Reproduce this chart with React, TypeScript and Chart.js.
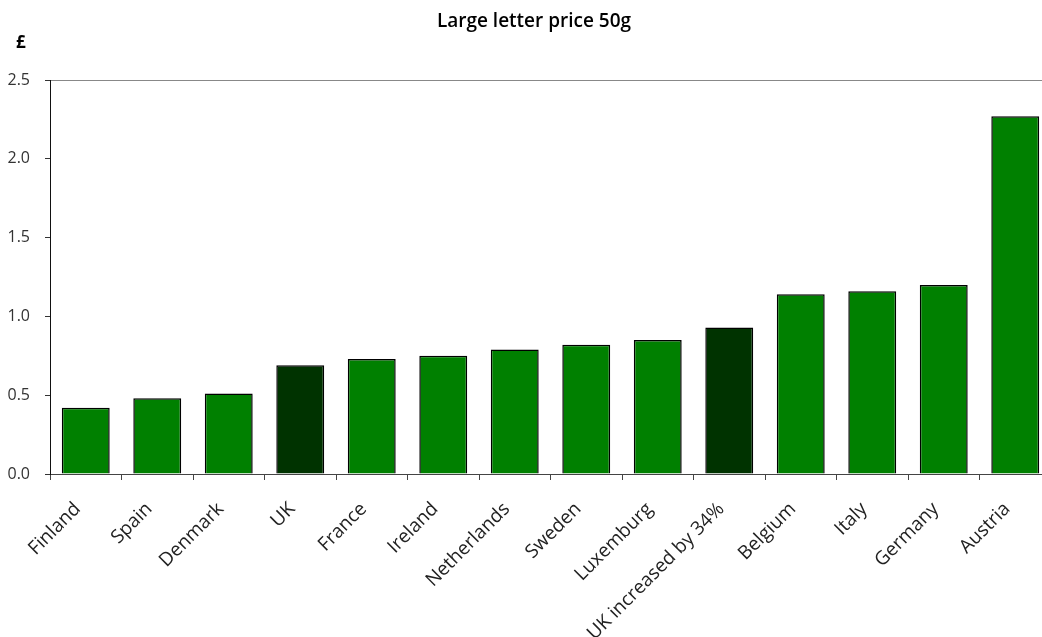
import React, { useEffect, useRef } from "react";
import { Chart, registerables } from "chart.js";

Chart.register(...registerables);

const categories = [
  "Finland",
  "Spain",
  "Denmark",
  "UK",
  "France",
  "Ireland",
  "Netherlands",
  "Sweden",
  "Luxemburg",
  "UK increased by 34%",
  "Belgium",
  "Italy",
  "Germany",
  "Austria",
];
const prices = [0.42, 0.48, 0.51, 0.69, 0.73, 0.75, 0.79, 0.82, 0.85, 0.93, 1.14, 1.16, 1.2, 2.27];
const highlighted = ["UK", "UK increased by 34%"];
const yTicks = [0, 0.5, 1.0, 1.5, 2.0, 2.5];
const titleText = "Large letter price 50g";
const unitLabel = "£";

const FONT = "'Open Sans', sans-serif";
const GREEN = "#008000";
const DARK = "#003300";

export default function App() {
  const ref = useRef<HTMLCanvasElement | null>(null);

  useEffect(() => {
    if (!ref.current) return;
    const textPlugin = {
      id: "textPlugin",
      afterDraw(chart: any) {
        const ctx = chart.ctx;
        ctx.save();
        ctx.fillStyle = "#000";
        ctx.textBaseline = "middle";
        ctx.font = `600 19px ${FONT}`;
        ctx.textAlign = "center";
        ctx.fillText(titleText, 534, 22);
        ctx.font = `bold 17px ${FONT}`;
        ctx.textAlign = "left";
        ctx.fillText(unitLabel, 16, 43);
        ctx.restore();
      },
    };
    const chart = new Chart(ref.current, {
      type: "bar",
      data: {
        labels: categories,
        datasets: [
          {
            data: prices,
            backgroundColor: categories.map((c) => (highlighted.includes(c) ? DARK : GREEN)),
            borderColor: "#000",
            borderWidth: 1.5,
            categoryPercentage: 1,
            barPercentage: 0.67,
          },
        ],
      },
      options: {
        responsive: false,
        animation: false,
        layout: { padding: { left: 0, right: 1, top: 80, bottom: 0 } },
        plugins: {
          legend: { display: false },
          tooltip: { enabled: false },
          title: { display: false },
        },
        scales: {
          x: {
            afterFit(scale: any) {
              scale.height = 163;
            },
            border: { display: true, color: "#444", width: 1 },
            grid: {
              offset: true,
              drawOnChartArea: false,
              drawTicks: true,
              tickLength: 6,
              tickColor: "#444",
            },
            ticks: {
              maxRotation: 45,
              minRotation: 45,
              autoSkip: false,
              padding: 18,
              labelOffset: -8,
              color: "#222",
              font: { family: FONT, size: 19 },
            },
          },
          y: {
            min: 0,
            max: 2.5,
            afterFit(scale: any) {
              scale.width = 50;
            },
            afterBuildTicks(scale: any) {
              scale.ticks = yTicks.map((v) => ({ value: v }));
            },
            border: { display: true, color: "#111", width: 1 },
            grid: {
              drawTicks: true,
              tickLength: 5,
              tickColor: "#333",
              color: (ctx: any) => (ctx.tick && ctx.tick.value === 2.5 ? "#888" : "rgba(0,0,0,0)"),
            },
            ticks: {
              padding: 15,
              color: "#333",
              font: { family: FONT, size: 16 },
              callback: (v: any) => Number(v).toFixed(1),
            },
          },
        },
      },
      plugins: [textPlugin],
    });
    return () => chart.destroy();
  }, []);

  return (
    <div
      style={{
        position: "fixed",
        left: 0,
        top: 0,
        width: 1042,
        height: 637,
        overflow: "hidden",
        background: "#fff",
      }}
    >
      <canvas ref={ref} width={1052} height={637} style={{ display: "block" }} />
    </div>
  );
}
